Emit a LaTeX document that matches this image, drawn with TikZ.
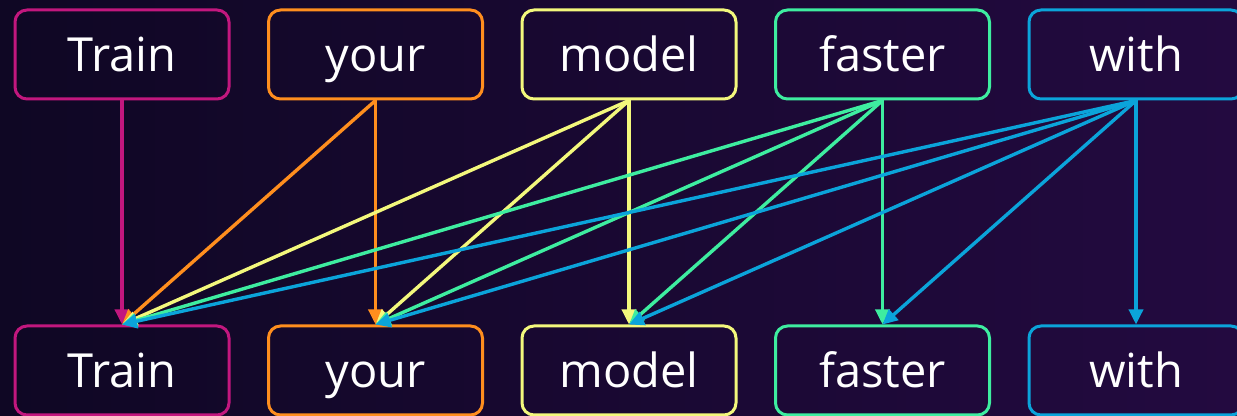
\documentclass[tikz,border=0pt]{standalone}
\usepackage{fontspec}
\setmainfont{Open Sans}
\usetikzlibrary{arrows.meta}
\definecolor{bgleft}{HTML}{0F0724}
\definecolor{bgright}{HTML}{230A40}
\definecolor{cTrain}{HTML}{C2177E}
\definecolor{cYour}{HTML}{FF8E1E}
\definecolor{cModel}{HTML}{F3F87C}
\definecolor{cFaster}{HTML}{3EEDA0}
\definecolor{cWith}{HTML}{0BA4DA}
\tikzset{
  tok/.style={draw=#1, line width=1.5pt, rounded corners=6pt,
    minimum width=107pt, minimum height=44.5pt, inner sep=0pt,
    text=white, font=\fontsize{23.5}{28}\selectfont,
    text height=17pt, text depth=0pt},
  attn/.style={draw=#1, line width=1.7pt,
    -{Triangle[width=7pt,length=7.5pt,fill=#1]}}
}
\begin{document}
\begin{tikzpicture}[x=0.5pt,y=-0.5pt]
  % background
  \shade[left color=bgleft, right color=bgright] (0,0) rectangle (1237,416);
  \useasboundingbox (0,0) rectangle (1237,416);

  % token boxes, top row (queries) and bottom row (keys)
  \foreach \name/\word/\col/\x in {t/Train/cTrain/122, y/your/cYour/375.5,
      m/model/cModel/629, f/faster/cFaster/882.5, w/with/cWith/1136}{
    \node[tok=\col] (top\name) at (\x,54.5) {\word};
    \node[tok=\col] (bot\name) at (\x,370.5) {\word};
  }

  % causal attention: each word points to itself and every earlier word
  \draw[attn=cTrain] (topt.south) -- (bott.north);

  \draw[attn=cYour] (topy.south) -- (bott.north);
  \draw[attn=cYour] (topy.south) -- (boty.north);

  \draw[attn=cModel] (topm.south) -- (bott.north);
  \draw[attn=cModel] (topm.south) -- (boty.north);
  \draw[attn=cModel] (topm.south) -- (botm.north);

  \draw[attn=cFaster] (topf.south) -- (bott.north);
  \draw[attn=cFaster] (topf.south) -- (boty.north);
  \draw[attn=cFaster] (topf.south) -- (botm.north);
  \draw[attn=cFaster] (topf.south) -- (botf.north);

  \draw[attn=cWith] (topw.south) -- (bott.north);
  \draw[attn=cWith] (topw.south) -- (boty.north);
  \draw[attn=cWith] (topw.south) -- (botm.north);
  \draw[attn=cWith] (topw.south) -- (botf.north);
  \draw[attn=cWith] (topw.south) -- (botw.north);
\end{tikzpicture}
\end{document}
